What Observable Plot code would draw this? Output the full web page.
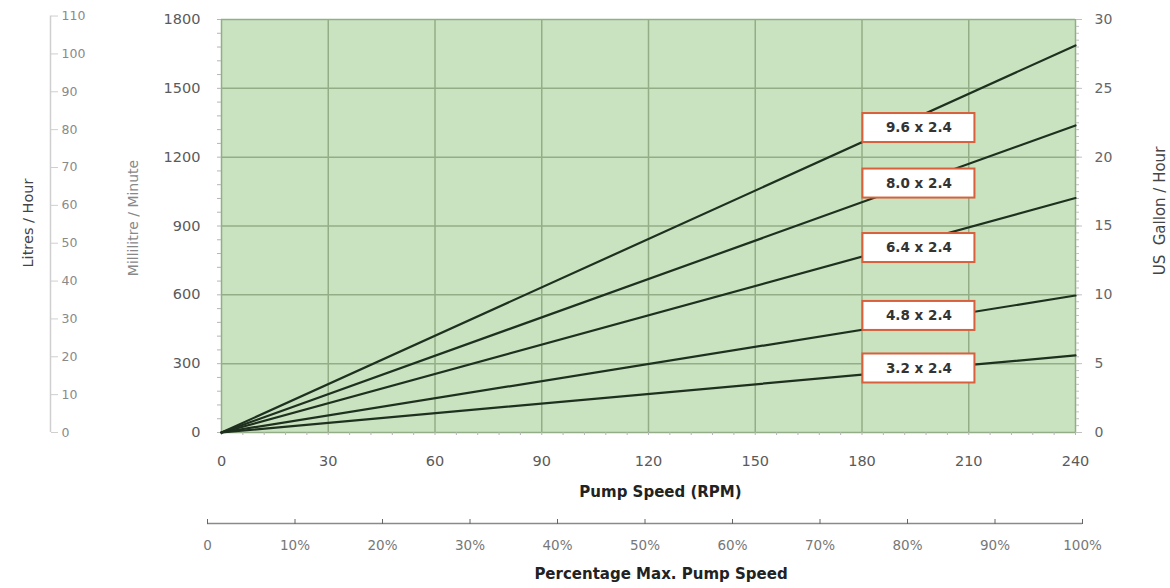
<!DOCTYPE html>
<html>
<head>
<meta charset="utf-8">
<script src="https://cdn.jsdelivr.net/npm/d3@7"></script>
<script src="https://cdn.jsdelivr.net/npm/@observablehq/plot@0.6"></script>
<style>
  html, body { margin: 0; padding: 0; background: #ffffff; }
  #chart { width: 1170px; }
  #chart svg { display: block; }
</style>
</head>
<body>
<div id="chart"></div>
<script>
// ---- data ----
const series = ["9.6 x 2.4", "8.0 x 2.4", "6.4 x 2.4", "4.8 x 2.4", "3.2 x 2.4"];
const flowAtMaxRpm = [1687, 1338, 1022, 597, 336];   // ml/min at 240 RPM
const maxRpm = 240;
const labelRpm = [196, 196, 196, 196, 196];
const labelFlow = [1327, 1085, 804, 508, 279];
const rpmTicks = [0, 30, 60, 90, 120, 150, 180, 210, 240];
const mlTicks = [0, 300, 600, 900, 1200, 1500, 1800];
const litreTicks = [0, 10, 20, 30, 40, 50, 60, 70, 80, 90, 100, 110];
const gallonTicks = [0, 5, 10, 15, 20, 25, 30];
const pctTicks = [0, 10, 20, 30, 40, 50, 60, 70, 80, 90, 100];
const mlPerLitreHour = 16.5;   // as drawn on the litres axis
const mlPerGallonHour = 60;    // as drawn on the gallon axis

// ---- build tables ----
const lineData = series.flatMap((s, i) => [
  {series: s, rpm: 0, flow: 0},
  {series: s, rpm: maxRpm, flow: flowAtMaxRpm[i]}
]);
const labels = series.map((s, i) => ({series: s, rpm: labelRpm[i], flow: labelFlow[i]}));

const font = "DejaVu Sans, Verdana, sans-serif";

const main = Plot.plot({
  width: 1170,
  height: 510,
  marginLeft: 221,
  marginRight: 95,
  marginTop: 19,
  marginBottom: 78,
  style: {fontFamily: font, fontSize: "14px", background: "transparent", overflow: "visible"},
  x: {domain: [0, 240], label: null},
  y: {domain: [0, 1800], label: null},
  marks: [
    Plot.frame({fill: "#c9e2bf", stroke: null}),
    Plot.gridX(rpmTicks, {stroke: "#93ae87", strokeOpacity: 1, strokeWidth: 1.5}),
    Plot.gridY(mlTicks, {stroke: "#93ae87", strokeOpacity: 1, strokeWidth: 1.5}),
    // bottom axis
    Plot.axisX(d3.range(0, 241, 6), {tickSize: 3, text: null, stroke: "#b5b5b5", label: null}),
    Plot.axisX(rpmTicks, {tickSize: 0, tickPadding: 23, fill: "#5a5a5a", fontSize: 14.5, label: null, tickFormat: d => String(d)}),
    // ml/min axis
    Plot.axisY(d3.range(0, 1801, 60), {anchor: "left", tickSize: 4, text: null, stroke: "#b5b5b5", label: null}),
    Plot.axisY(mlTicks, {anchor: "left", tickSize: 0, tickPadding: 21, fill: "#5a5a5a", fontSize: 14.5, label: null, tickFormat: d => String(d)}),
    // gallon axis
    Plot.axisY(d3.range(0, 1801, 30), {anchor: "right", tickSize: 3, text: null, stroke: "#c0c0c0", label: null}),
    Plot.axisY(gallonTicks.map(g => g * mlPerGallonHour), {anchor: "right", tickSize: 6, tickPadding: 13,
      stroke: "#c0c0c0", fill: "#666", fontSize: 14, tickFormat: v => String(Math.round(v / mlPerGallonHour)), label: null}),
    // litres axis
    Plot.ruleX([0], {y1: 0, y2: 110 * mlPerLitreHour, dx: -171, stroke: "#cfcfcf", strokeWidth: 1.5}),
    Plot.axisY(litreTicks.map(l => l * mlPerLitreHour), {anchor: "right", dx: -1025, tickSize: 7, tickPadding: 4,
      stroke: "#cfcfcf", fill: "#8a8a8a", fontSize: 12.5, tickFormat: v => String(Math.round(v / mlPerLitreHour)), label: null}),
    // axis titles
    Plot.text(["Litres / Hour"], {frameAnchor: "left", textAnchor: "middle", lineAnchor: "middle", dx: -193, dy: -3, rotate: -90, fill: "#444", fontSize: 14.5}),
    Plot.text(["Millilitre / Minute"], {frameAnchor: "left", textAnchor: "middle", lineAnchor: "middle", dx: -88, dy: -8, rotate: -90, fill: "#888", fontSize: 14}),
    Plot.text(["US  Gallon / Hour"], {frameAnchor: "right", textAnchor: "middle", lineAnchor: "middle", dx: 85, dy: -15, rotate: -90, fill: "#444", fontSize: 15}),
    Plot.text(["Pump Speed (RPM)"], {frameAnchor: "bottom", lineAnchor: "middle", dy: 60, dx: 12, fill: "#222", fontSize: 15, fontWeight: "bold"}),
    // lines
    Plot.line(lineData, {x: "rpm", y: "flow", z: "series", stroke: "#1e301e", strokeWidth: 2.2}),
    // labels
    Plot.rect(labels, {x1: "rpm", x2: "rpm", y1: "flow", y2: "flow",
      insetLeft: -56, insetRight: -56, insetTop: -14.5, insetBottom: -14.5,
      fill: "white", stroke: "#d8603c", strokeWidth: 2}),
    Plot.text(labels, {x: "rpm", y: "flow", text: "series", fill: "#333", fontSize: 13.5, fontWeight: "bold"})
  ]
});

const pct = Plot.plot({
  width: 1170,
  height: 78,
  marginLeft: 207,
  marginRight: 88,
  marginTop: 13,
  marginBottom: 13,
  style: {fontFamily: font, fontSize: "13px", background: "transparent", overflow: "visible"},
  x: {domain: [0, 100], label: null, axis: null},
  y: {domain: [0, 1], label: null, axis: null},
  marks: [
    Plot.ruleY([1], {x1: 0, x2: 100, stroke: "#8a8a8a", strokeWidth: 1.5}),
    Plot.axisX(pctTicks, {anchor: "top", tickSize: 5, text: null, stroke: "#666", label: null}),
    Plot.text(pctTicks, {x: d => d, frameAnchor: "top", lineAnchor: "middle", dy: 22, text: d => d === 0 ? "0" : d + "%", fill: "#777", fontSize: 13.5}),
    Plot.text(["Percentage Max. Pump Speed"], {frameAnchor: "top", lineAnchor: "middle", dy: 51, dx: 16, fill: "#222", fontSize: 15, fontWeight: "bold"})
  ]
});

document.getElementById("chart").append(main, pct);
</script>
</body>
</html>
